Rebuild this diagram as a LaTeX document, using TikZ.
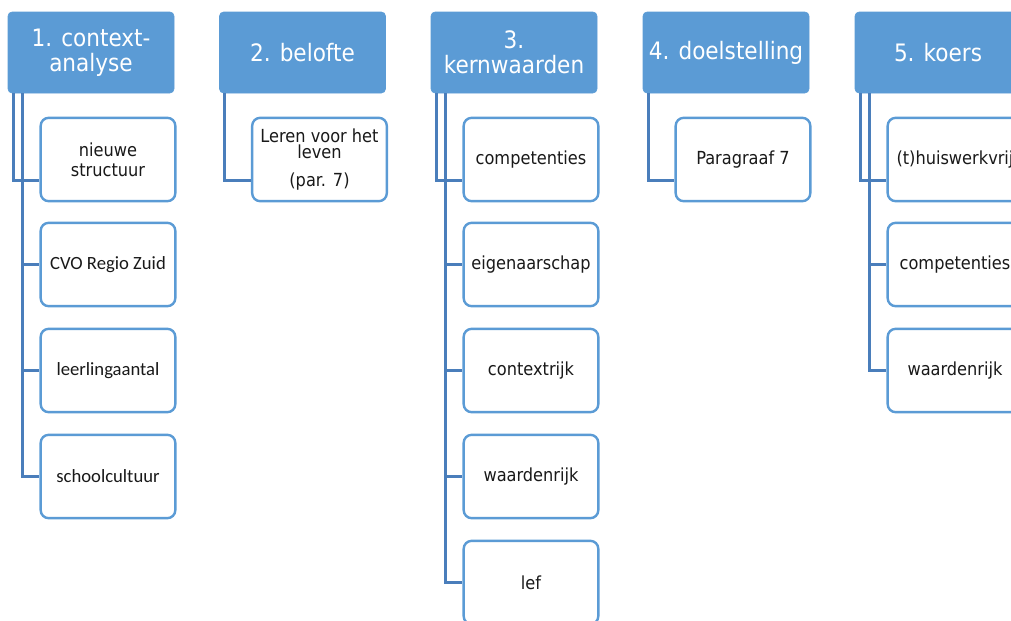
\documentclass[tikz,border=0pt]{standalone}
\usepackage{fontspec}
\setmainfont{DejaVu Sans Condensed}
\newfontfamily\calibri{Carlito}
\usetikzlibrary{calc}
\definecolor{kopblauw}{HTML}{5B9BD5}
\definecolor{randblauw}{HTML}{5B9BD5}
\definecolor{lijnblauw}{HTML}{4A7EBB}
\tikzset{
  kop/.style={fill=kopblauw,draw=kopblauw,rounded corners=3pt,
    minimum width=124.5pt,minimum height=60.75pt,inner sep=1pt,
    text=white,align=center,font=\fontsize{18}{19}\selectfont},
  deel/.style={fill=white,draw=randblauw,line width=1.8pt,rounded corners=6pt,
    minimum width=101pt,minimum height=62.5pt,inner sep=1pt,
    text=black!90,align=center,font=\fontsize{13.5}{15}\selectfont},
  cal/.style={font=\calibri\fontsize{14}{15}\selectfont},
  lijn/.style={draw=lijnblauw,line width=2pt}
}
\begin{document}
\begin{tikzpicture}[x=0.75pt,y=-0.75pt]
\useasboundingbox (0,0) rectangle (1011,621);
\clip (0,0) rectangle (1011,621);
%koppen
\node[kop] (k1) at (91,52.5) {1. context-\\analyse};
\node[kop] (k2) at (302.5,52.5) {2. belofte};
\node[kop] (k3) at (514,52.5) {3.\\kernwaarden};
\node[kop] (k4) at (726,52.5) {4. doelstelling};
\node[kop] (k5) at (938,52.5) {5. koers};
%onderdelen
\node[deel] (d11) at (108,159.5) {nieuwe\\structuur};
\node[deel,cal] (d12) at (108,264.5) {CVO Regio Zuid};
\node[deel,cal] (d13) at (108,370.5) {leerlingaantal};
\node[deel,cal] (d14) at (108,476.5) {schoolcultuur};
\node[deel,font=\fontsize{13.5}{12}\selectfont] (d21) at (319.5,159.5) {Leren voor het\\leven\\[9pt](par. 7)};
\node[deel] (d31) at (531,159.5) {competenties};
\node[deel] (d32) at (531,264.5) {eigenaarschap};
\node[deel] (d33) at (531,370.5) {contextrijk};
\node[deel] (d34) at (531,476.5) {waardenrijk};
\node[deel] (d35) at (531,582.5) {lef};
\node[deel] (d41) at (743,159.5) {Paragraaf 7};
\node[deel] (d51) at (955,159.5) {(t)huiswerkvrij};
\node[deel] (d52) at (955,264.5) {competenties};
\node[deel] (d53) at (955,370.5) {waardenrijk};
%lijnen
\foreach \k in {1,...,5}{
\draw[lijn]($(k\k.south west)+(5.5,0)$)|-($(d\k1.west)+(0,21)$);
}
\foreach \k/\n in {1/4,3/5,5/3}{
\foreach \j in {2,...,\n}{
\draw[lijn]($(k\k.south west)+(15,0)$)|-(d\k\j.west);
}
}
\end{tikzpicture}
\end{document}
